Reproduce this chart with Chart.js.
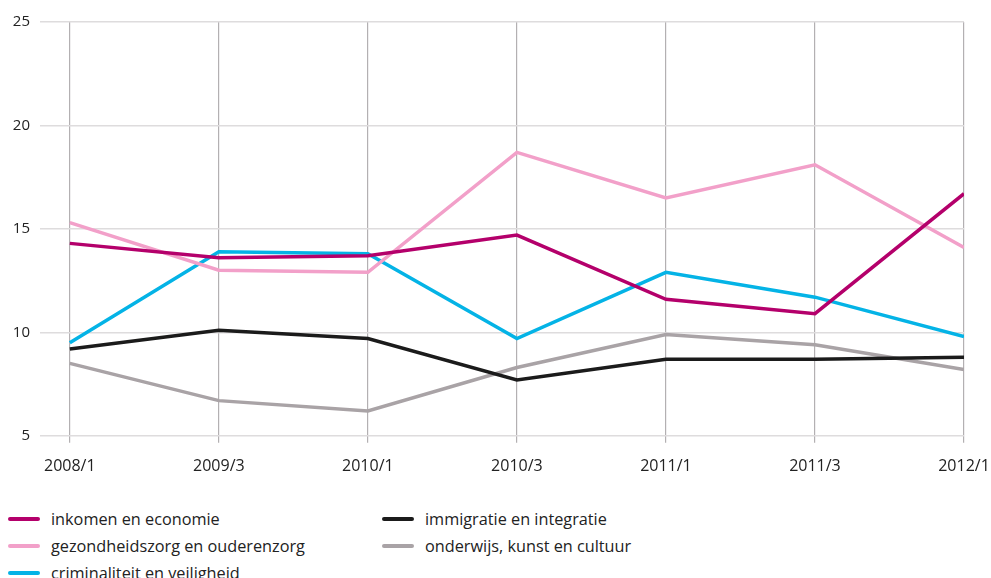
<!DOCTYPE html>
<html>
<head>
<meta charset="utf-8">
<script src="https://cdn.jsdelivr.net/npm/chart.js@4.4.1/dist/chart.umd.min.js"></script>
<style>
  html, body { margin: 0; padding: 0; background: #fff; overflow: hidden; }
  #wrap { position: relative; width: 991px; height: 578px; }
  #chartBox { position: absolute; left: 0; top: 0; width: 991px; height: 490px; }
  .legend-item { position: absolute; font-family: "Open Sans", sans-serif; font-size: 16.25px; color: #222; white-space: nowrap; }
  .legend-item span.sw { position: absolute; top: 50%; height: 4px; margin-top: -2px; border-radius: 2px; }
</style>
</head>
<body>
<div id="wrap">
  <div id="chartBox"><canvas id="myChart"></canvas></div>
  <div id="legend"></div>
</div>
<script>
const periods = ['2008/1', '2009/3', '2010/1', '2010/3', '2011/1', '2011/3', '2012/1'];

const inkomen = [14.3, 13.6, 13.7, 14.7, 11.6, 10.9, 16.7];
const gezondheid = [15.3, 13.0, 12.9, 18.7, 16.5, 18.1, 14.1];
const criminaliteit = [9.5, 13.9, 13.8, 9.7, 12.9, 11.7, 9.8];
const immigratie = [9.2, 10.1, 9.7, 7.7, 8.7, 8.7, 8.8];
const onderwijs = [8.5, 6.7, 6.2, 8.3, 9.9, 9.4, 8.2];

const yTicks = [5, 10, 15, 20, 25];

const series = [
    { label: 'inkomen en economie', data: inkomen, color: '#b4006b' },
    { label: 'gezondheidszorg en ouderenzorg', data: gezondheid, color: '#f2a0c9' },
    { label: 'criminaliteit en veiligheid', data: criminaliteit, color: '#04b3e6' },
    { label: 'immigratie en integratie', data: immigratie, color: '#1b1b1b' },
    { label: 'onderwijs, kunst en cultuur', data: onderwijs, color: '#a9a3a6' }
];

const datasets = series.map((s, i) => ({
    label: s.label,
    data: s.data.map((v, idx) => ({ x: idx, y: v })),
    borderColor: s.color,
    backgroundColor: s.color,
    borderWidth: 3.5,
    pointRadius: 0,
    tension: 0,
    order: i
}));

const ctx = document.getElementById('myChart').getContext('2d');

new Chart(ctx, {
    type: 'line',
    data: { datasets: datasets },
    options: {
        responsive: true,
        maintainAspectRatio: false,
        animation: false,
        layout: { padding: { top: 22, right: 27, left: 0, bottom: 0 } },
        plugins: {
            legend: { display: false },
            tooltip: { enabled: false }
        },
        scales: {
            x: {
                type: 'linear',
                min: -0.2,
                max: 6,
                afterBuildTicks: (scale) => {
                    scale.ticks = periods.map((p, i) => ({ value: i }));
                },
                afterFit: (scale) => {
                    scale.paddingLeft = 0;
                    scale.paddingRight = 0;
                },
                border: { display: false },
                grid: {
                    color: '#b3b0b2',
                    lineWidth: 1.2,
                    drawTicks: true,
                    tickLength: 7
                },
                ticks: {
                    callback: (v) => periods[v],
                    maxRotation: 0,
                    autoSkip: false,
                    padding: 14,
                    color: '#222',
                    font: { family: 'Open Sans', size: 16 }
                }
            },
            y: {
                min: 5,
                max: 25,
                afterBuildTicks: (scale) => {
                    scale.ticks = yTicks.map(v => ({ value: v }));
                },
                afterFit: (scale) => {
                    scale.width = 40;
                },
                border: { display: false },
                grid: {
                    color: '#dedcdd',
                    lineWidth: 1.5,
                    drawTicks: false
                },
                ticks: {
                    padding: 10,
                    color: '#222',
                    font: { family: 'Open Sans', size: 15 }
                }
            }
        }
    }
});

// legend in two columns below the chart
const legendPos = [
    { x: 8, y: 519 },
    { x: 8, y: 546 },
    { x: 8, y: 573 },
    { x: 382, y: 519 },
    { x: 382, y: 546 }
];
const legend = document.getElementById('legend');
legend.innerHTML = series.map((s, i) => `
    <div class="legend-item" style="left:${legendPos[i].x}px; top:${legendPos[i].y - 11}px; height:22px; line-height:22px; padding-left:43px;">
        <span class="sw" style="left:0; width:32px; background:${s.color};"></span>${s.label}
    </div>
`).join('');
</script>
</body>
</html>
